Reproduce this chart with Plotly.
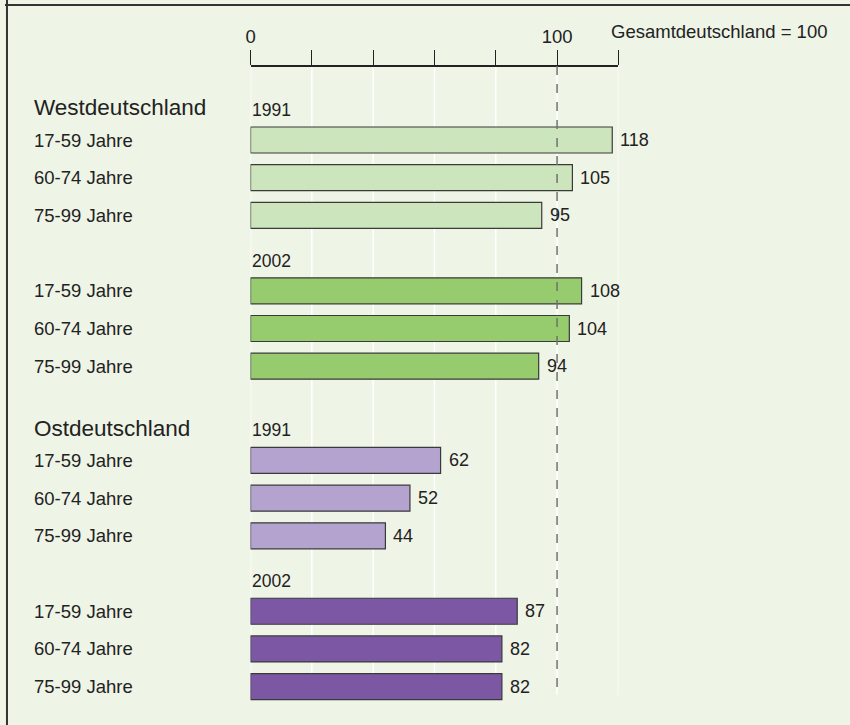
import plotly.graph_objects as go

# ---- data ----
regions = ["Westdeutschland", "Ostdeutschland"]
years = ["1991", "2002"]
age_groups = ["17-59 Jahre", "60-74 Jahre", "75-99 Jahre"]
west_1991 = [118, 105, 95]
west_2002 = [108, 104, 94]
east_1991 = [62, 52, 44]
east_2002 = [87, 82, 82]
axis_ticks = [0, 20, 40, 60, 80, 100, 120]
axis_ticktext = ["0", "", "", "", "", "100", ""]
reference_value = 100
reference_label = "Gesamtdeutschland = 100"

groups = [
    ("Westdeutschland", "1991", west_1991, "#CDE5BD"),
    ("Westdeutschland", "2002", west_2002, "#96CC6D"),
    ("Ostdeutschland", "1991", east_1991, "#B4A3CF"),
    ("Ostdeutschland", "2002", east_2002, "#7C58A4"),
]
# layout offsets (row units) for each group block
group_offsets = [0, 4, 8.5, 12.5]

W, H = 850, 725
BG = "#EEF4E6"
TXT = "#222222"
FONT = "Liberation Sans, Arial, sans-serif"

# pixel mapping for the y (row) axis
row0_px, row_px = 140, 37.7
y_top = (0 - row0_px) / row_px
y_bot = (H - row0_px) / row_px

fig = go.Figure()
annotations = []
shapes = []

label_x = 27 / W
for (region, year, vals, color), off in zip(groups, group_offsets):
    ys = [off + i for i in range(len(vals))]
    fig.add_trace(go.Bar(
        x=vals, y=ys, orientation="h", width=0.69,
        marker=dict(color=color, line=dict(color="#3a3a3a", width=1.2)),
        hoverinfo="x", showlegend=False,
    ))
    for v, yy, lab in zip(vals, ys, age_groups):
        annotations.append(dict(x=v, y=yy, xref="x", yref="y", text=str(v),
                                showarrow=False, xanchor="left", xshift=6,
                                font=dict(size=18, color=TXT, family=FONT)))
        annotations.append(dict(x=label_x, y=yy, xref="paper", yref="y", text=lab,
                                showarrow=False, xanchor="left",
                                font=dict(size=18.5, color=TXT, family=FONT)))
    annotations.append(dict(x=0, y=off - 0.8, xref="x", yref="y", text=year,
                            showarrow=False, xanchor="left", xshift=-1,
                            font=dict(size=17.5, color=TXT, family=FONT)))
    if year == "1991":
        annotations.append(dict(x=label_x, y=off - 0.85, xref="paper", yref="y",
                                text=region, showarrow=False, xanchor="left",
                                font=dict(size=22.5, color=TXT, family=FONT)))

axis_y = -1.96
grid_bottom = 14.72
for t in axis_ticks:
    shapes.append(dict(type="line", xref="x", yref="y", x0=t, x1=t,
                       y0=axis_y, y1=grid_bottom, layer="below",
                       line=dict(color="white", width=1.5)))
shapes.append(dict(type="line", xref="x", yref="y", x0=reference_value,
                   x1=reference_value, y0=axis_y, y1=grid_bottom, layer="above",
                   line=dict(color="#707070", width=1.5, dash="dash")))
# frame lines (top and left)
shapes.append(dict(type="line", xref="paper", yref="paper", x0=0, x1=1,
                   y0=1 - 5 / H, y1=1 - 5 / H, line=dict(color="#333333", width=2)))
shapes.append(dict(type="line", xref="paper", yref="paper", x0=2 / W, x1=2 / W,
                   y0=0, y1=1, line=dict(color="#333333", width=2)))

annotations.append(dict(x=608 / W, y=1 - 32 / H, xref="paper", yref="paper",
                        text=reference_label, showarrow=False, xanchor="left",
                        yanchor="middle",
                        font=dict(size=18.5, color=TXT, family=FONT)))

fig.update_layout(
    width=W, height=H,
    margin=dict(l=0, r=0, t=0, b=0),
    paper_bgcolor=BG, plot_bgcolor=BG,
    barmode="overlay",
    xaxis=dict(domain=[247 / W, 617 / W], range=[0, 120], side="top",
               anchor="free", position=1 - 66 / H,
               tickvals=axis_ticks, ticktext=axis_ticktext,
               ticks="outside", ticklen=15, tickwidth=1.2, tickcolor="#222",
               showline=True, linecolor="#222", linewidth=1.5,
               showgrid=False, zeroline=False,
               tickfont=dict(size=18.5, color=TXT, family=FONT)),
    yaxis=dict(range=[y_bot, y_top], visible=False, domain=[0, 1]),
    annotations=annotations,
    shapes=shapes,
)

fig.write_html("out.html",
               config={"displayModeBar": False},
               post_script="document.body.style.margin='0';document.body.style.overflow='hidden';")
